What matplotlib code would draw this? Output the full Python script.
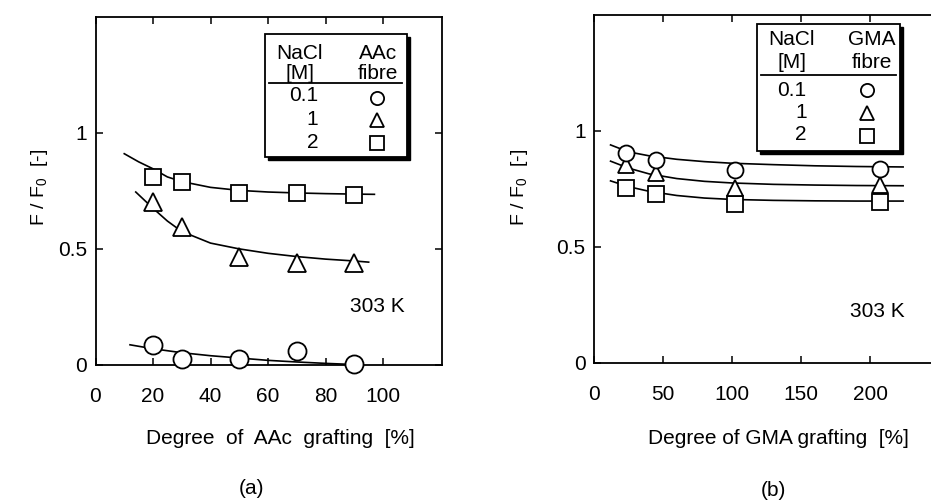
import matplotlib
matplotlib.use('Agg')
import matplotlib.pyplot as plt
from matplotlib.patches import Rectangle

plt.rcParams['font.family'] = ['Liberation Sans', 'DejaVu Sans']
plt.rcParams['mathtext.fontset'] = 'custom'
plt.rcParams['mathtext.rm'] = 'Liberation Sans'

# (a) AAc fibre
a_x = [20, 30, 50, 70, 90]
a_circ = [0.088, 0.027, 0.024, 0.062, 0.004]
a_tri = [0.70, 0.596, 0.464, 0.438, 0.438]
a_sq = [0.81, 0.79, 0.74, 0.74, 0.733]

a_circ_fit_x = [12, 20, 30, 40, 50, 60, 70, 80, 90]
a_circ_fit_y = [0.087, 0.07, 0.053, 0.04, 0.03, 0.02, 0.013, 0.007, 0.002]
a_tri_fit_x = [14, 20, 25, 30, 40, 50, 60, 70, 80, 90, 95]
a_tri_fit_y = [0.745, 0.675, 0.62, 0.575, 0.525, 0.5, 0.481, 0.467, 0.456, 0.448, 0.443]
a_sq_fit_x = [10, 15, 20, 25, 30, 40, 50, 60, 70, 80, 90, 97]
a_sq_fit_y = [0.91, 0.875, 0.845, 0.81, 0.79, 0.765, 0.752, 0.745, 0.741, 0.738, 0.736, 0.735]

# (b) GMA fibre
g_x = [23, 45, 102, 207]
g_circ = [0.905, 0.876, 0.832, 0.838]
g_tri = [0.854, 0.821, 0.756, 0.768]
g_sq = [0.756, 0.727, 0.687, 0.693]

g_fit_x = [12, 25, 40, 60, 80, 100, 130, 160, 190, 224]
g_circ_fit = [0.94, 0.91, 0.893, 0.878, 0.868, 0.861, 0.855, 0.85, 0.847, 0.845]
g_tri_fit = [0.87, 0.84, 0.815, 0.795, 0.783, 0.776, 0.77, 0.767, 0.765, 0.764]
g_sq_fit = [0.785, 0.76, 0.74, 0.722, 0.711, 0.705, 0.701, 0.699, 0.698, 0.698]

nacl = ['0.1', '1', '2']
markers = ['o', '^', 's']

W, H = 931, 504
FS = 15
fig = plt.figure(figsize=(W / 100, H / 100), dpi=100)


def px_axes(x0, x1, y0, y1):
    return fig.add_axes([x0 / W, 1 - y1 / H, (x1 - x0) / W, (y1 - y0) / H])


def style(ax, xticks, yticks):
    ax.set_ylim(0, 1.5)
    ax.set_xticks(xticks)
    ax.set_yticks(yticks)
    ax.set_yticklabels(['0', '0.5', '1'])
    ax.tick_params(direction='in', length=5, width=1.1, labelsize=FS,
                   top=True, right=True)
    ax.tick_params(axis='x', pad=16)
    ax.tick_params(axis='y', pad=6)
    for s in ax.spines.values():
        s.set_linewidth(1.3)


def table(ax, x0, x1, y0, y1, dx, dy, col1, col2, hline_y, row_ys, mk_ys, txt_right, mk_x, sizes):
    ax.add_patch(Rectangle((x0 + dx, y0 - dy), x1 - x0, y1 - y0, facecolor='black',
                           edgecolor='black', zorder=8))
    ax.add_patch(Rectangle((x0, y0), x1 - x0, y1 - y0, facecolor='white',
                           edgecolor='black', lw=1.3, zorder=9))
    hx, hy1, hy2 = col1
    ax.text(hx, hy1, 'NaCl', ha='center', va='center', fontsize=FS, zorder=10)
    ax.text(hx, hy2, '[M]', ha='center', va='center', fontsize=FS, zorder=10)
    cx, name = col2
    ax.text(cx, hy1, name, ha='center', va='center', fontsize=FS, zorder=10)
    ax.text(cx, hy2, 'fibre', ha='center', va='center', fontsize=FS, zorder=10)
    ax.plot([x0 + (x1 - x0) * 0.03, x1 - (x1 - x0) * 0.03], [hline_y, hline_y],
            color='black', lw=1.3, zorder=10)
    for lab, ty, my, m, ms in zip(nacl, row_ys, mk_ys, markers, sizes):
        ax.text(txt_right, ty, lab, ha='right', va='center', fontsize=FS, zorder=10)
        ax.plot(mk_x, my, marker=m, ms=ms, mfc='white', mec='black', mew=1.3,
                ls='none', zorder=10, clip_on=False)


# ---- panel (a)
ax1 = px_axes(95.5, 441.7, 16.7, 365)
ax1.set_xlim(0, 120.4)
style(ax1, [0, 20, 40, 60, 80, 100], [0, 0.5, 1])
for fx, fy in [(a_circ_fit_x, a_circ_fit_y), (a_tri_fit_x, a_tri_fit_y), (a_sq_fit_x, a_sq_fit_y)]:
    ax1.plot(fx, fy, color='black', lw=1.2, zorder=2)
for ys, m, ms in zip([a_circ, a_tri, a_sq], markers, [13, 12.5, 12]):
    ax1.plot(a_x, ys, marker=m, ms=ms, mfc='white', mec='black', mew=1.3,
             ls='none', zorder=3, clip_on=False)
table(ax1, 59, 108.2, 0.897, 1.427, 1.1, 0.014,
      (71.1, 1.34, 1.255), (98.3, 'AAc'), 1.215,
      [1.162, 1.058, 0.958], [1.15, 1.056, 0.956], 77.4, 97.8, [9.5, 10, 9.5])
ax1.text(97.9, 0.25, '303 K', ha='center', va='center', fontsize=FS)

# ---- panel (b)
ax2 = px_axes(594, 594 + 250 * 1.38, 15, 363)
ax2.set_xlim(0, 250)
style(ax2, [0, 50, 100, 150, 200], [0, 0.5, 1])
for fy in [g_circ_fit, g_tri_fit, g_sq_fit]:
    ax2.plot(g_fit_x, fy, color='black', lw=1.2, zorder=2)
for ys, m, ms in zip([g_sq, g_tri, g_circ], ['s', '^', 'o'], [11, 11.5, 11.5]):
    ax2.plot(g_x, ys, marker=m, ms=ms, mfc='white', mec='black', mew=1.3,
             ls='none', zorder=3, clip_on=False)
table(ax2, 117.9, 221.7, 0.913, 1.463, 2.2, 0.014,
      (143.3, 1.395, 1.295), (201.2, 'GMA'), 1.242,
      [1.174, 1.078, 0.984], [1.176, 1.078, 0.98], 154, 197.6, [9.5, 10, 9.5])
ax2.text(205, 0.22, '303 K', ha='center', va='center', fontsize=FS)

# ---- labels
ylab = r'F / F$_\mathregular{0}$  [-]'
fig.text(39 / W, 1 - 187 / H, ylab, rotation=90, ha='center', va='center', fontsize=14)
fig.text(520 / W, 1 - 187 / H, ylab, rotation=90, ha='center', va='center', fontsize=14)
fig.text(280 / W, 1 - 438 / H, 'Degree  of  AAc  grafting  [%]', ha='center', va='center', fontsize=FS)
fig.text(778 / W, 1 - 438 / H, 'Degree of GMA grafting  [%]', ha='center', va='center', fontsize=FS)
fig.text(251 / W, 1 - 488 / H, '(a)', ha='center', va='center', fontsize=FS)
fig.text(773 / W, 1 - 490 / H, '(b)', ha='center', va='center', fontsize=FS)

fig.savefig('out.png', dpi=100)
